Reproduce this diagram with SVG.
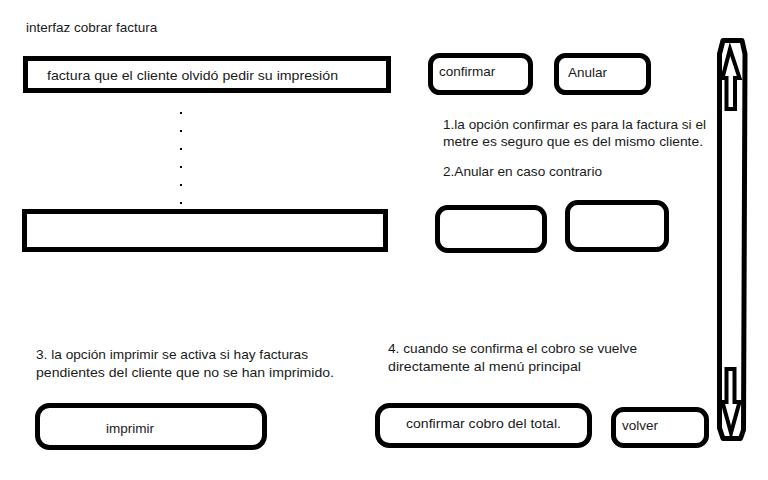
<svg xmlns="http://www.w3.org/2000/svg" width="768" height="480" viewBox="0 0 768 480">
<style>
text{font-family:"Liberation Sans",Arial,sans-serif;font-size:13.5px;fill:#1a1a1a}
.box{fill:none;stroke:#000;stroke-width:5}
.btn{fill:none;stroke:#000;stroke-width:5}
.sb{fill:none;stroke:#000;stroke-width:5;stroke-linejoin:round}
.arr{fill:#fff;stroke:#000;stroke-width:4;stroke-linejoin:miter}
</style>
<rect width="768" height="480" fill="#fff"/>
<g id="title"><text x="26" y="32">interfaz cobrar factura</text></g>
<g id="factura1">
<rect class="box" x="25.5" y="58.5" width="363" height="32"/>
<text x="47" y="80" textLength="291" lengthAdjust="spacingAndGlyphs">factura que el cliente olvidó pedir su impresión</text>
</g>
<g id="dots" fill="#000">
<rect x="180" y="112" width="2" height="2"/>
<rect x="180" y="130" width="2" height="2"/>
<rect x="180" y="148" width="2" height="2"/>
<rect x="180" y="166" width="2" height="2"/>
<rect x="180" y="184" width="2" height="2"/>
<rect x="180" y="202" width="2" height="2"/>
</g>
<g id="factura2"><rect class="box" x="24.5" y="211.5" width="361" height="38"/></g>
<g id="btn-confirmar">
<rect class="btn" x="430.5" y="55.5" width="100" height="37" rx="9"/>
<text x="439" y="76">confirmar</text>
</g>
<g id="btn-anular">
<rect class="btn" x="556.5" y="55.5" width="92" height="37" rx="9"/>
<text x="568" y="77">Anular</text>
</g>
<g id="note12">
<text x="443" y="129" textLength="263" lengthAdjust="spacingAndGlyphs">1.la opción confirmar es para la factura si el</text>
<text x="443" y="146" textLength="260" lengthAdjust="spacingAndGlyphs">metre es seguro que es del mismo cliente.</text>
<text x="443" y="176" textLength="159" lengthAdjust="spacingAndGlyphs">2.Anular en caso contrario</text>
</g>
<g id="btn-empty1"><rect class="btn" x="437.5" y="207.5" width="107" height="43" rx="10"/></g>
<g id="btn-empty2"><rect class="btn" x="567.5" y="202.5" width="99" height="47" rx="10"/></g>
<g id="scrollbar">
<path class="sb" d="M719.5,54 L723,40.5 L742,40.5 L745,54 L743.5,430 L740.5,438.5 L723,438.5 L719.5,428 Z"/>
<path class="arr" d="M730,49 L739.5,78 L735,78 L735,109 L726.5,109 L726.5,78 L722.5,78 Z"/>
<path class="arr" d="M726.5,369 L734.5,369 L734.5,402 L739.5,402 L731,433 L722.5,402 L726.5,402 Z"/>
</g>
<g id="note3">
<text x="36" y="359" textLength="272" lengthAdjust="spacingAndGlyphs">3. la opción imprimir se activa si hay facturas</text>
<text x="36" y="377" textLength="298" lengthAdjust="spacingAndGlyphs">pendientes del cliente que no se han imprimido.</text>
</g>
<g id="btn-imprimir">
<rect class="btn" x="37.5" y="405.5" width="227" height="42" rx="12"/>
<text x="106" y="433">imprimir</text>
</g>
<g id="note4">
<text x="388" y="353" textLength="249" lengthAdjust="spacingAndGlyphs">4. cuando se confirma el cobro se vuelve</text>
<text x="388" y="371" textLength="193" lengthAdjust="spacingAndGlyphs">directamente al menú principal</text>
</g>
<g id="btn-confirmar-cobro">
<rect class="btn" x="377.5" y="405.5" width="212" height="40" rx="12"/>
<text x="406" y="428" textLength="155" lengthAdjust="spacingAndGlyphs">confirmar cobro del total.</text>
</g>
<g id="btn-volver">
<rect class="btn" x="613.5" y="409.5" width="93" height="36" rx="10"/>
<text x="622" y="430">volver</text>
</g>
<g id="connectors"></g>
</svg>
